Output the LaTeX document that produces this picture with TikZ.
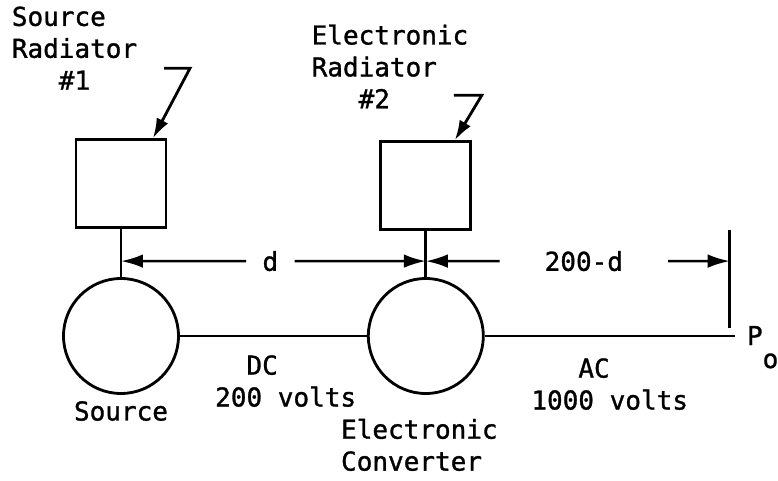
\documentclass[tikz,border=0pt]{standalone}
\usepackage{fontspec}
\setmonofont[FakeBold=1.2]{DejaVu Sans Mono}
\usepackage{tikz}
\usetikzlibrary{positioning, arrows.meta, calc}

\begin{document}
\begin{tikzpicture}[
    node distance=1.2cm,
    every node/.style={font=\ttfamily\fontsize{18.5}{22.7}\selectfont},
    unit/.style={circle, draw=black, line width=2pt, minimum size=2.875cm, inner sep=0pt},
    radiator/.style={rectangle, draw=black, line width=2pt, minimum width=2.25cm, minimum height=2.2cm, inner sep=0pt},
    line/.style={-, line width=2pt},
    dim/.style={line width=1.8pt, -{Latex[length=0.55cm, width=0.34cm]}},
    lead/.style={line width=2pt, -{Latex[length=0.5cm, width=0.32cm]}},
    txt/.style={align=left, inner sep=0pt}
]
    \useasboundingbox (-3.025,-3.6) rectangle (16.425,8.4);

    % Units
    \node[unit] (src) at (0,0) {};
    \node[unit, right=4.675cm of src] (conv) {};

    % Radiators
    \node[radiator, above=1.2cm of src] (srcrad) {};
    \node[radiator, above=1.15cm of conv] (convrad) {};

    % Output
    \coordinate[right=6.25cm of conv.east] (out);
    \coordinate[above left=0.2cm and 0.125cm of out] (limlo);
    \coordinate[above=2.45cm of limlo] (limhi);

    % Dimension points
    \coordinate[above=0.4cm of src.north] (dA);
    \coordinate[above=0.4cm of conv.north] (dB);
    \coordinate (dC) at (limlo |- dA);

    % Leader points
    \coordinate[right=0.8cm of srcrad.north] (srctip);
    \coordinate[above right=1.75cm and 0.925cm of srctip] (srcbend);
    \coordinate[left=0.65cm of srcbend] (srcend);
    \coordinate[right=0.725cm of convrad.north] (convtip);
    \coordinate[above right=1.125cm and 0.675cm of convtip] (convbend);
    \coordinate[left=0.7cm of convbend] (convend);

    % Labels
    \node[txt, above left=3.3cm and 1.575cm of srcrad.north west, anchor=north west] (srcradtxt) {Source\\Radiator\\~~~\#1};
    \node[txt, above left=2.9cm and 1.7cm of convrad.north west, anchor=north west] (convradtxt) {Electronic\\Radiator\\~~~\#2};
    \node[txt, below=0.15cm of src] (srctxt) {Source};
    \node[txt, below left=0.59cm and 2.125cm of conv.south, anchor=north west] (convtxt) {Electronic\\Converter};
    \node[txt, below right=0.475cm and 0.875cm of src.east, anchor=north west] (dctxt) {~~DC\\200 volts};
    \node[txt, below right=0.55cm and 1.16cm of conv.east, anchor=north west] (actxt) {~~~AC\\1000 volts};
    \node[txt, right=0.3cm of out, anchor=base west, yshift=-0.225cm] (po) {P\raisebox{-0.575cm}{o}};
    \node[minimum width=1.2cm] (dlen) at ($(dA)!0.49!(dB)$) {d};
    \node[minimum width=4.2cm] (restlen) at ($(dB)!0.52!(dC)$) {200-d};

    % Connections
    \draw[line] (srcrad) -- (src);
    \draw[line] (convrad) -- (conv);
    \draw[line] (src) -- (conv);
    \draw[line] (conv.east) -- (out);
    \draw[line] (limlo) -- (limhi);

    % Dimensions
    \draw[dim] (dlen) -- (dA);
    \draw[dim] (dlen) -- (dB);
    \draw[dim] (restlen) -- (dB);
    \draw[dim] (restlen) -- (dC);

    % Leaders
    \draw[lead] (srcend) -- (srcbend) -- (srctip);
    \draw[lead] (convend) -- (convbend) -- (convtip);

\end{tikzpicture}
\end{document}
